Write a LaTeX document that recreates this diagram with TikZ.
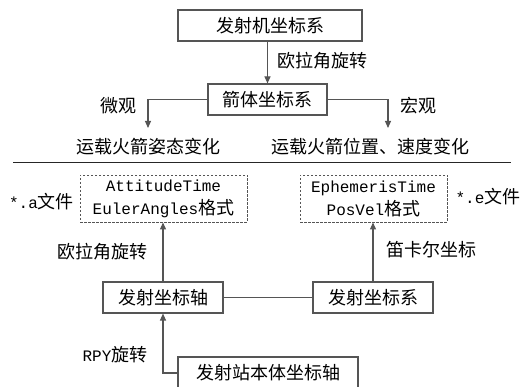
\documentclass[tikz,border=0pt]{standalone}
\usepackage{fontspec}
\setmainfont{Noto Sans CJK SC}
\setmonofont{Liberation Mono}
\usetikzlibrary{arrows.meta}
\definecolor{linec}{RGB}{85,85,85}
\newcommand\mylat[1]{{\fontsize{16}{23}\selectfont\ttfamily #1}}
\begin{document}
\begin{tikzpicture}[x=1pt,y=-1pt,
  conn/.style={draw=linec, line width=1.1pt},
  arr/.style={conn, -{Triangle[length=7pt,width=6pt]}},
  box/.style={draw=linec, line width=1.1pt, minimum height=31pt, inner sep=0pt, font=\fontsize{18}{22}\selectfont},
  dbox/.style={draw=linec, line width=0.9pt, dash pattern=on 2.5pt off 1.5pt, minimum height=47pt, inner sep=0pt, align=center, font=\fontsize{18}{23}\selectfont},
  txt/.style={inner sep=0pt, font=\fontsize{18}{22}\selectfont}]
\useasboundingbox (0,0) rectangle (525,387);
% top part
\node[box, minimum width=184pt] (b1) at (270,25.5) {发射机坐标系};
\node[box, minimum width=119pt] (b2) at (267.5,99.5) {箭体坐标系};
\draw[arr] (b2.north |- b1.south) -- (b2.north);
\node[txt, anchor=west] (l1) at (277,61) {欧拉角旋转};
\node[txt] (t1) at (148,147) {运载火箭姿态变化};
\node[txt] (t2) at (370,147) {运载火箭位置、速度变化};
\coordinate (cL) at (148,128);
\coordinate (cR) at (388,128);
\draw[arr] (b2.west) -| (cL);
\draw[arr] (b2.east) -| (cR);
\node[txt] (w1) at (118,106) {微观};
\node[txt] (h1) at (418,106) {宏观};
% separator
\coordinate (sL) at (13,162);
\coordinate (sR) at (511,162);
\draw[line width=0.9pt, draw=black!85] (sL) -- (sR);
% lower part
\node[dbox, minimum width=167pt] (da) at (163.5,198.5) {\mylat{AttitudeTime}\\\mylat{EulerAngles}格式};
\node[dbox, minimum width=147pt] (db) at (373.5,198.5) {\mylat{EphemerisTime}\\\mylat{PosVel}格式};
\node[txt] (fa) at (41.5,202) {\mylat{*.a}文件};
\node[txt] (fe) at (488,197) {\mylat{*.e}文件};
\node[box, minimum width=120pt] (c1) at (163,297.5) {发射坐标轴};
\node[box, minimum width=120pt] (c2) at (373,297.5) {发射坐标系};
\draw[conn] (c1.east) -- (c2.west);
\draw[arr] (c1.north) -- (c1.north |- da.south);
\draw[arr] (c2.north) -- (c2.north |- db.south);
\node[txt] (l2) at (102,252) {欧拉角旋转};
\node[txt] (l3) at (431,250) {笛卡尔坐标};
\node[box, minimum width=180pt, minimum height=32pt] (d) at (268,373) {发射站本体坐标轴};
\draw[arr] (d.west) -| (c1.south);
\node[txt] (l4) at (115,355) {\mylat{RPY}旋转};
\end{tikzpicture}
\end{document}
